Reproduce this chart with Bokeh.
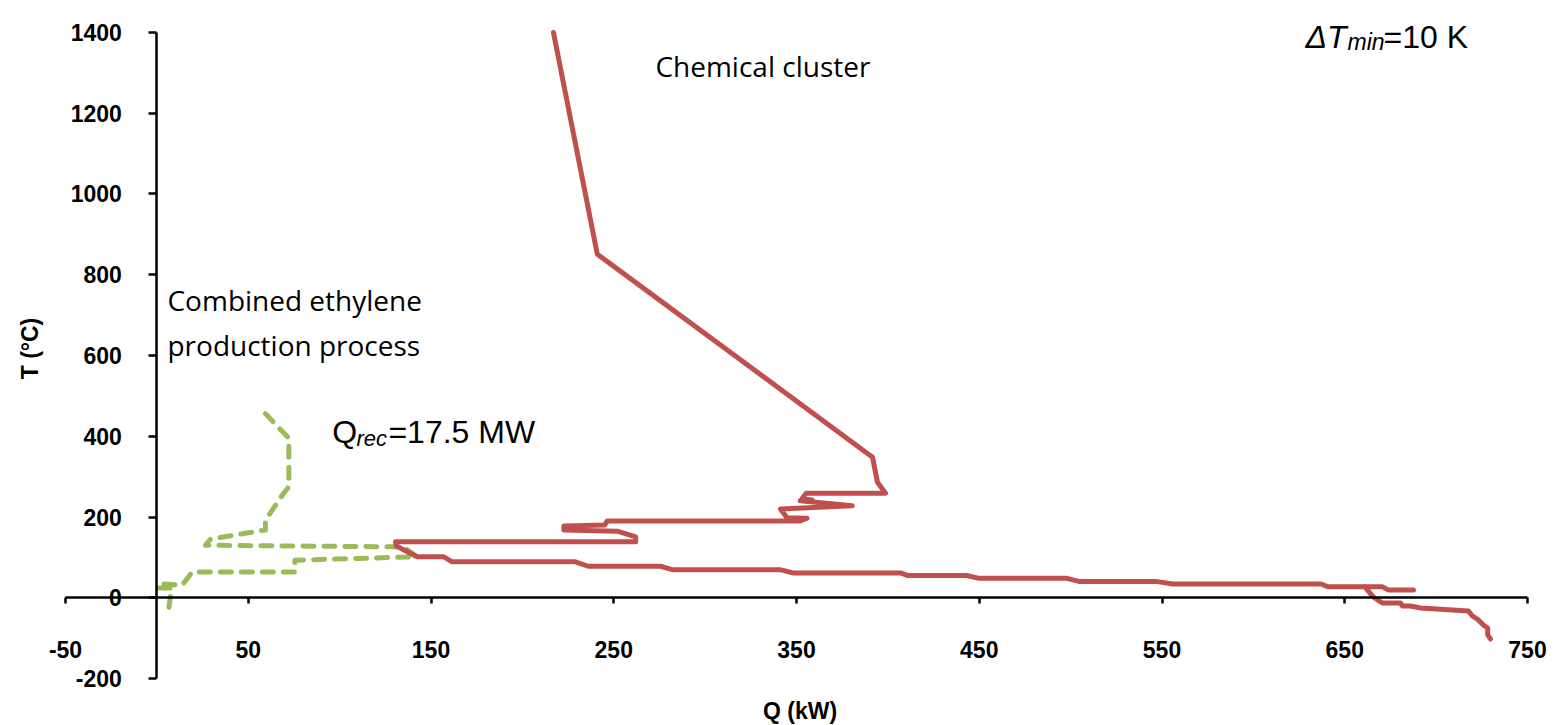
from bokeh.plotting import figure
from bokeh.models import LinearAxis, FixedTicker, Label, Range1d
from bokeh.embed import file_html
from bokeh.resources import INLINE

# ---- data ----
x_ticks = [-50, 50, 150, 250, 350, 450, 550, 650, 750]
y_ticks = [-200, 0, 200, 400, 600, 800, 1000, 1200, 1400]

# Chemical cluster (red, solid)
red_q = [217, 241, 391.6, 394.3, 398.7, 355.3, 353, 358.6, 352, 380.5, 341.2, 344.8,
         355.8, 352, 246.4, 245, 222.7, 222.7, 251.9, 262, 262, 130.6, 131, 142.4,
         157, 161.6, 229, 236, 275.6, 282, 341, 348, 407, 411, 443, 450, 498, 505,
         547.5, 556, 637, 641, 670.7, 674, 687.6]
red_t = [1400, 851, 348, 286, 259, 259, 245, 242, 240, 228, 220, 198,
         197, 190, 190, 180, 178, 168, 165, 151, 139, 139, 128, 101.5,
         101.5, 89, 89, 78, 78, 69.5, 69.5, 61.5, 61.5, 55, 55, 48, 48, 40,
         40, 34, 34, 27, 27, 19, 19]
red_branch_q = [661, 665.7, 670.6, 680.5, 681.6, 686, 691.5, 717.7, 719.9, 722.6, 726, 728.2, 728.2, 729.7]
red_branch_t = [27, 1.7, -13, -13, -20.5, -20.5, -25.5, -33, -45.3, -53, -68, -75, -92, -102]

# Combined ethylene production process (green, dashed)
green_q = [59.4, 72.2, 72.2, 68.6, 59.4, 59.4, 29.3, 26.6, 135, 142.4, 75.5, 75.5,
           19.3, 13.8, 1, 1, 8, 6.5]
green_t = [456, 395, 275, 254, 192, 168, 145, 130, 126, 101.5, 93, 64,
           64, 31, 35, 24, 24, -28]

RED = "#C0504D"
GREEN = "#9BBB59"

# frame geometry: axes span x -50..750 and y -200..1400; frame padded so
# that the tick labels drawn by the crossing axes are not clipped
X0, X1 = -50, 750
Y0, Y1 = -200, 1400
PX_PER_X = 1.8275
PX_PER_Y = 0.404
pad_l, pad_r, pad_t, pad_b = 21, 28, 28, 14   # px around the axis box
axis_w = (X1 - X0) * PX_PER_X
axis_h = (Y1 - Y0) * PX_PER_Y
frame_w = int(round(axis_w + pad_l + pad_r))
frame_h = int(round(axis_h + pad_t + pad_b))
x_range = Range1d(X0 - pad_l / PX_PER_X, X1 + pad_r / PX_PER_X)
y_range = Range1d(Y0 - pad_b / PX_PER_Y, Y1 + pad_t / PX_PER_Y)

p = figure(frame_width=frame_w, frame_height=frame_h,
           x_range=x_range, y_range=y_range,
           x_axis_location=None, y_axis_location=None,
           output_backend="svg", toolbar_location=None,
           min_border_left=44, min_border_right=0, min_border_top=4, min_border_bottom=25)
p.xgrid.visible = False
p.ygrid.visible = False
p.outline_line_color = None
p.background_fill_color = "white"
p.border_fill_color = "white"

AX_FONT = "Liberation Sans"

# axis titles (outer axes, no line/ticks/labels)
xt = LinearAxis(axis_label="Q (kW)", ticker=FixedTicker(ticks=[]), axis_line_color=None,
                major_tick_out=0, major_tick_in=0, minor_tick_out=0, minor_tick_in=0,
                major_label_text_font_size="0px", major_label_standoff=0,
                axis_label_standoff=5, axis_label_text_font=AX_FONT,
                axis_label_text_font_style="bold", axis_label_text_font_size="23px",
                axis_label_text_color="black")
p.add_layout(xt, "below")
yt = LinearAxis(axis_label="T (°C)", ticker=FixedTicker(ticks=[]), axis_line_color=None,
                major_tick_out=0, major_tick_in=0, minor_tick_out=0, minor_tick_in=0,
                major_label_text_font_size="0px", major_label_standoff=0,
                axis_label_standoff=2, axis_label_text_font=AX_FONT,
                axis_label_text_font_style="bold", axis_label_text_font_size="23px",
                axis_label_text_color="black")
p.add_layout(yt, "left")

# crossing axes at x=0 and y=0 (plain hyphen for negative labels, as in the original)
xa = LinearAxis(fixed_location=0, bounds=(X0, X1), ticker=FixedTicker(ticks=x_ticks),
                axis_line_width=2.5, axis_line_color="black",
                major_tick_out=6, major_tick_in=0, major_tick_line_width=2.5,
                minor_tick_out=0, minor_tick_in=0,
                major_label_standoff=37, major_label_text_font=AX_FONT,
                major_label_text_font_style="bold", major_label_text_font_size="23px",
                major_label_text_color="black",
                major_label_overrides={t: str(t) for t in x_ticks})
p.add_layout(xa, "below")
ya = LinearAxis(fixed_location=0, bounds=(Y0, Y1), ticker=FixedTicker(ticks=y_ticks),
                axis_line_width=2.5, axis_line_color="black",
                major_tick_out=8, major_tick_in=0, major_tick_line_width=2.5,
                minor_tick_out=0, minor_tick_in=0,
                major_label_standoff=27, major_label_text_font=AX_FONT,
                major_label_text_font_style="bold", major_label_text_font_size="23px",
                major_label_text_color="black",
                major_label_overrides={t: str(t) for t in y_ticks})
p.add_layout(ya, "left")

# curves
p.line(green_q, green_t, line_color=GREEN, line_width=5, line_dash="11 10",
       line_cap="round", line_join="round")
p.line(red_q, red_t, line_color=RED, line_width=5, line_join="round", line_cap="round")
p.line(red_branch_q, red_branch_t, line_color=RED, line_width=5, line_join="round", line_cap="round")

# annotations
CAL = "Open Sans"
p.add_layout(Label(x=272.8, y=1316, text="Chemical cluster", text_font=CAL,
                   text_font_size="28px", text_baseline="middle", text_color="black"))
p.add_layout(Label(x=5.8, y=737, text="Combined ethylene", text_font=CAL,
                   text_font_size="28px", text_baseline="middle", text_color="black"))
p.add_layout(Label(x=5.8, y=625, text="production process", text_font=CAL,
                   text_font_size="28px", text_baseline="middle", text_color="black"))

# Q_rec = 17.5 MW
p.add_layout(Label(x=95.9, y=410, text="Q", text_font=AX_FONT, text_font_size="32px",
                   text_baseline="alphabetic", text_color="black"))
p.add_layout(Label(x=109.2, y=395, text="rec", text_font=AX_FONT, text_font_size="22px",
                   text_font_style="italic", text_baseline="alphabetic", text_color="black"))
p.add_layout(Label(x=126.7, y=410, text="=17.5 MW", text_font=AX_FONT, text_font_size="32px",
                   text_baseline="alphabetic", text_color="black"))

# ΔT_min = 10 K
p.add_layout(Label(x=628.5, y=1388.6, text="ΔT", text_font=AX_FONT, text_font_size="32px",
                   text_font_style="italic", text_baseline="alphabetic", text_color="black"))
p.add_layout(Label(x=651.5, y=1376, text="min", text_font=AX_FONT, text_font_size="23px",
                   text_font_style="italic", text_baseline="alphabetic", text_color="black"))
p.add_layout(Label(x=671.2, y=1388.6, text="=10 K", text_font=AX_FONT, text_font_size="32px",
                   text_baseline="alphabetic", text_color="black"))

open("out.html", "w").write(file_html(p, INLINE))
